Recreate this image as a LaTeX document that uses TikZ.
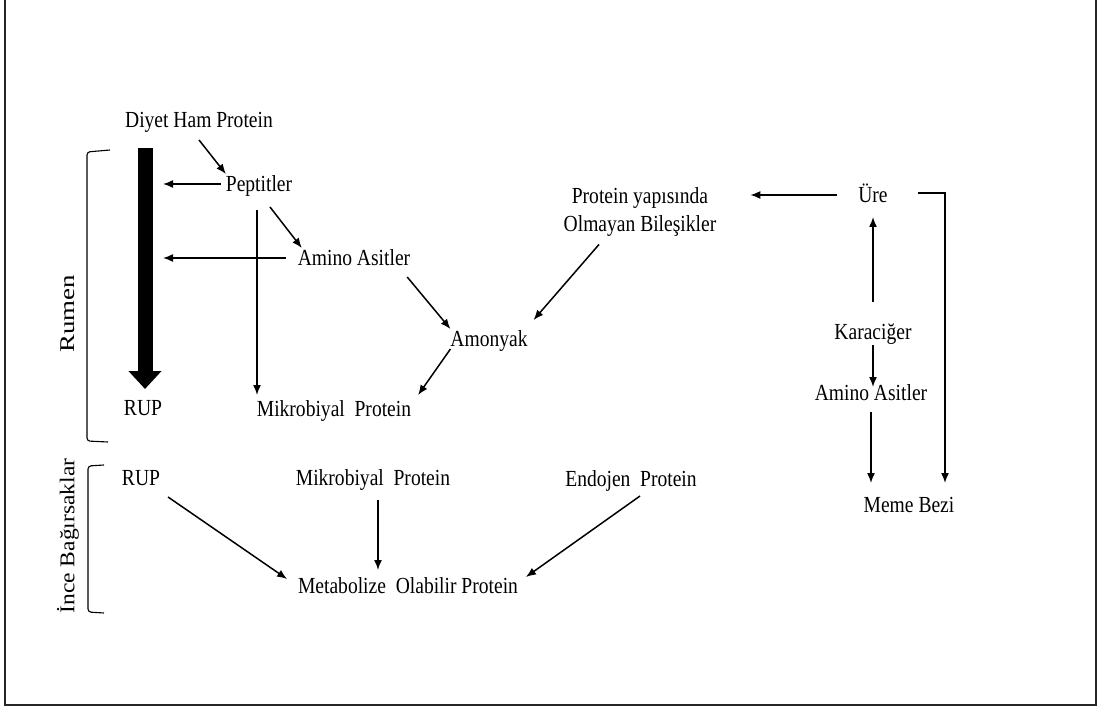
\documentclass[tikz,border=0pt]{standalone}
\usepackage{fontspec}
\setmainfont{Liberation Serif}[FakeStretch=0.85]
\newfontfamily\widefont{Liberation Serif}
\usetikzlibrary{positioning}
\usetikzlibrary{calc}
\usetikzlibrary{arrows.meta}

\begin{document}
\begin{tikzpicture}[x=1pt, y=-1pt, >={Latex[length=10pt,width=8pt]},
    txt/.style={font=\fontsize{23}{28}\selectfont, inner sep=0pt, outer sep=0pt},
    lbl/.style={txt, text height=18pt, text depth=2pt},
    side/.style={font=\widefont\fontsize{21}{25}\selectfont, inner sep=0pt, rotate=90},
    flow/.style={line width=1.5pt, ->},
    brace/.style={line width=1.1pt, rounded corners=3pt}]
  \useasboundingbox (0,0) rectangle (1097,708);
  \draw[line width=1.6pt, black!85] (5,-5) -- (5,705) -- (1096,705) -- (1096,-5);

  % rumen
  \node[lbl] at (199,120) (diyet) {Diyet Ham Protein};
  \node[lbl] at (259,184) (pept) {Peptitler};
  \node[lbl] at (354,258) (aminoA) {Amino Asitler};
  \node[lbl] at (489,339) (amonyak) {Amonyak};
  \node[lbl] at (143,407) (rupA) {RUP};
  \node[lbl] at (334,408) (mikroA) {Mikrobiyal\ \ Protein};
  \node[txt, align=center] at (640,212) (nonprot) {Protein yapısında\\Olmayan Bileşikler};

  % karaciger
  \node[lbl] at (873,195) (ure) {Üre};
  \node[lbl] at (873,331) (kara) {Karaciğer};
  \node[lbl] at (871,392) (aminoB) {Amino Asitler};
  \node[lbl] at (909,504) (meme) {Meme Bezi};

  % ince bagirsak
  \node[lbl] at (141,477) (rupB) {RUP};
  \node[lbl] at (373,477) (mikroB) {Mikrobiyal\ \ Protein};
  \node[lbl] at (631,478) (endo) {Endojen\ \ Protein};
  \node[lbl] at (408,585) (metab) {Metabolize\ \ Olabilir Protein};

  \node[side] at (68,314) (rumen) {\scalebox{1.28}[1]{Rumen}};
  \node[side] at (68,536) (ince) {\scalebox{1.12}[1]{İnce Bağırsaklar}};
  \draw[brace] (110,150) -- (87,152) -- (87,441) -- (108,442);
  \draw[brace] (104,465) -- (88,466) -- (88,612) -- (104,613);

  \coordinate (bartop) at (145,148);
  \draw[line width=15pt, -{Triangle[length=18pt,width=32pt]}] (bartop) -- ($(bartop |- rupA.north)+(0,-8)$);

  \draw[flow] ($(diyet.south)+(0,10)$) -- (pept.north west);
  \draw[flow, shorten <=5pt, shorten >=18pt] (pept.west) -- (pept.west -| bartop);
  \draw[flow] ($(pept.south)+(11,13)$) -- ($(aminoA.north west)+(4,0)$);
  \draw[flow] ($(pept.south)+(-2,16)$) -- ($(pept.south |- mikroA.north)+(-2,-3)$);
  \draw[flow, shorten <=12pt, shorten >=18pt] (aminoA.west) -- (aminoA.west -| bartop);
  \draw[flow] ($(aminoA.south east)+(-3,9)$) -- (amonyak.north west);
  \draw[flow] (amonyak.south west) -- ($(mikroA.north east)+(7,-3)$);
  \draw[flow] ($(nonprot.south)+(-41,8)$) -- ($(amonyak.north east)+(6,-9)$);

  \draw[flow, shorten <=21pt, shorten >=34pt] (ure.west) -- (ure.west -| nonprot.east);
  \draw[flow] ($(ure.east)+(30,-2)$) -| ($(meme.north)+(36,-11)$);
  \draw[flow, shorten <=19pt, shorten >=12pt] (kara.north) -- (ure.south);
  \draw[flow] ($(kara.south)+(0,4)$) -- ($(kara.south |- aminoB.north)+(0,5)$);
  \draw[flow, shorten <=10pt, shorten >=11pt] (aminoB.south) -- (aminoB.south |- meme.north);

  \draw[flow] ($(rupB.south east)+(8,10)$) -- ($(metab.north west)+(-11,4)$);
  \draw[flow] ($(mikroB.south)+(5,13)$) -- ($(mikroB.south |- metab.north)+(5,-5)$);
  \draw[flow] ($(endo.south)+(9,8)$) -- ($(metab.north east)+(8,2)$);
\end{tikzpicture}
\end{document}
